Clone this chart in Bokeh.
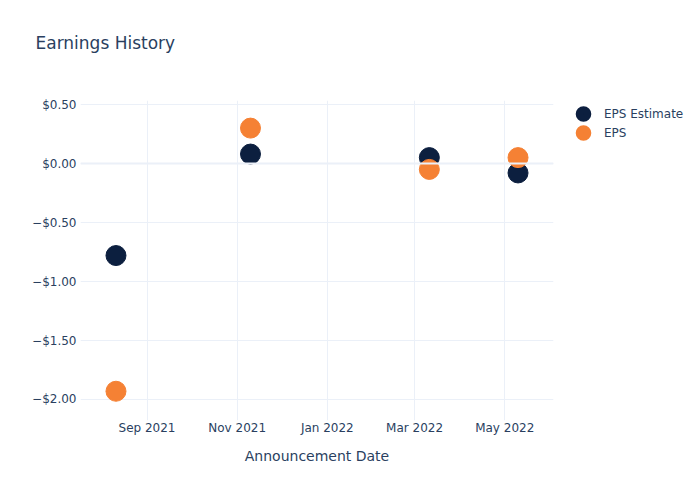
import pandas as pd
from bokeh.plotting import figure
from bokeh.models import (ColumnDataSource, Range1d, MonthsTicker, DatetimeTickFormatter,
                          FixedTicker, CustomJSTickFormatter, Legend, LegendItem, Span, Title)
from bokeh.embed import file_html
from bokeh.resources import INLINE

dates = ["2021-08-11", "2021-11-10", "2022-03-11", "2022-05-10"]
eps_estimate = [-0.78, 0.08, 0.05, -0.08]
eps_actual = [-1.93, 0.30, -0.05, 0.05]
y_ticks = [-2.0, -1.5, -1.0, -0.5, 0.0, 0.5]
series_names = ["EPS Estimate", "EPS"]
series_colors = ["#0c1f3f", "#f58134"]

FONT = "DejaVu Sans"
TXT = "#2a3f5f"
GRID = "#EBF0F8"

src = ColumnDataSource(dict(date=pd.to_datetime(dates), est=eps_estimate, eps=eps_actual))

x0 = pd.Timestamp("2021-07-18").value / 1e6
x1 = pd.Timestamp("2022-06-03").value / 1e6

p = figure(frame_width=473, frame_height=320, x_axis_type="datetime", output_backend="svg",
           toolbar_location=None,
           x_range=Range1d(x0, x1),
           y_range=Range1d(-2.178, 0.534),
           min_border_left=80, min_border_right=147, min_border_top=100, min_border_bottom=80)
p.outline_line_color = None
p.background_fill_color = "white"
p.border_fill_color = "white"

r1 = p.scatter("date", "est", source=src, size=20, color=series_colors[0])
r2 = p.scatter("date", "eps", source=src, size=20, color=series_colors[1])

# legend-only renderers (no visible data) so the legend dots can be drawn larger
nan_src = ColumnDataSource(dict(x=[float("nan")], y=[float("nan")]))
leg_r = [p.scatter("x", "y", source=nan_src, size=20, color=c, line_width=8)
         for c in series_colors]

p.xaxis.ticker = MonthsTicker(months=[0, 2, 4, 6, 8, 10])
p.xaxis.formatter = DatetimeTickFormatter(months="%b %Y", days="%b %Y")
p.yaxis.ticker = FixedTicker(ticks=y_ticks)
p.yaxis.formatter = CustomJSTickFormatter(code="""
return (tick < 0 ? '\u2212' : '') + '$' + Math.abs(tick).toFixed(2);
""")

for ax in (p.xaxis[0], p.yaxis[0]):
    ax.axis_line_color = None
    ax.major_tick_line_color = None
    ax.minor_tick_line_color = None
    ax.major_tick_out = 0
    ax.minor_tick_out = 0
    ax.major_label_text_font = FONT
    ax.major_label_text_font_size = "12px"
    ax.major_label_text_color = TXT
p.yaxis.major_label_standoff = 4
p.xaxis.major_label_standoff = 0
p.xaxis.axis_label = "Announcement Date"
p.xaxis.axis_label_text_font = FONT
p.xaxis.axis_label_text_font_size = "14px"
p.xaxis.axis_label_text_font_style = "normal"
p.xaxis.axis_label_text_color = TXT
p.xaxis.axis_label_standoff = 10

p.xgrid.grid_line_color = GRID
p.ygrid.grid_line_color = GRID
p.add_layout(Span(location=0, dimension="width", line_color=GRID, line_width=2))

p.add_layout(Title(text=" ", text_font_size="36px", standoff=0), "above")
p.title.text = "Earnings History"
p.title.text_font = FONT
p.title.text_font_size = "17px"
p.title.text_font_style = "normal"
p.title.text_color = TXT
p.title.offset = -45

legend = Legend(items=[LegendItem(label=n, renderers=[r]) for n, r in zip(series_names, leg_r)],
                location=(20, 278), border_line_color=None, background_fill_alpha=0,
                label_text_font=FONT, label_text_font_size="12px", label_text_color=TXT,
                glyph_width=20, glyph_height=19, spacing=0, label_standoff=11,
                margin=0, padding=10)
p.add_layout(legend, "right")

open("out.html", "w").write(file_html(p, INLINE))
